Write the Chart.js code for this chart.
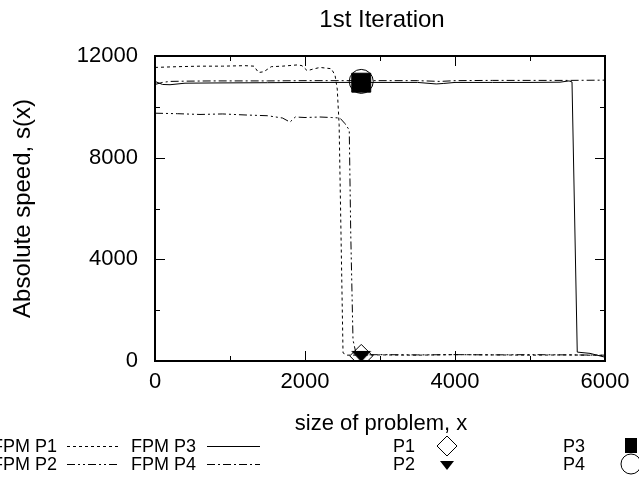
<!DOCTYPE html>
<html>
<head>
<meta charset="utf-8">
<script src="https://cdn.jsdelivr.net/npm/chart.js@4.4.1/dist/chart.umd.min.js"></script>
<style>
  html, body { margin: 0; padding: 0; background: #fff; }
  #wrap { width: 639px; height: 480px; }
</style>
</head>
<body>
<div id="wrap"><canvas id="c" width="639" height="480"></canvas></div>
<script>
// ---- data ----
const chartTitle = "1st Iteration";
const xTitle = "size of problem, x";
const yTitle = "Absolute speed, s(x)";
const xTicks = [0, 2000, 4000, 6000];
const yTicks = [0, 4000, 8000, 12000];

const fpmP1X = [0, 300, 600, 900, 1200, 1320, 1380, 1450, 1550, 1700, 1900, 1960, 2030, 2100, 2200, 2350, 2400, 2430, 2455, 2480, 2507, 2560, 3000, 3500, 4000, 4500, 5000, 5500, 6000];
const fpmP1Y = [11550, 11580, 11600, 11600, 11620, 11600, 11350, 11380, 11580, 11600, 11650, 11620, 11420, 11480, 11550, 11500, 11250, 10700, 9300, 5000, 320, 230, 240, 230, 250, 240, 230, 240, 220];

const fpmP2X = [0, 300, 600, 900, 1200, 1500, 1700, 1800, 1870, 2000, 2200, 2350, 2466, 2530, 2590, 2610, 2640, 2680, 2750, 3000, 3500, 4000, 4500, 5000, 5500, 6000];
const fpmP2Y = [9750, 9730, 9700, 9720, 9680, 9650, 9560, 9400, 9600, 9580, 9600, 9580, 9560, 9350, 9090, 5000, 830, 300, 240, 250, 240, 250, 240, 250, 240, 230];

const fpmP3X = [0, 100, 200, 400, 800, 1500, 2000, 2750, 3500, 3750, 3850, 4000, 4500, 5000, 5400, 5520, 5560, 5630, 5800, 6000];
const fpmP3Y = [11000, 10880, 10870, 10930, 10940, 10950, 10960, 10960, 10960, 10900, 10920, 10960, 10960, 10960, 10970, 11020, 10980, 350, 300, 150];

const fpmP4X = [0, 100, 200, 400, 800, 1500, 2000, 2750, 3500, 3800, 4000, 4500, 5000, 5500, 6000];
const fpmP4Y = [10880, 10960, 11000, 11010, 11020, 11020, 11030, 11030, 11030, 11000, 11030, 11040, 11040, 11040, 11050];

const pointX = 2750;
const p1Y = 200;
const p2Y = 200;
const p3Y = 10950;
const p4Y = 11000;

const legendLines = ["FPM P1", "FPM P2", "FPM P3", "FPM P4"];
const legendPoints = ["P1", "P2", "P3", "P4"];

// ---- styles ----
const FONT = "'Liberation Sans', Arial, Helvetica, sans-serif";
const dashP1 = [3, 3];
const dashP2 = [8, 3, 2, 3, 2, 3];
const dashP4 = [8, 3, 2, 3];

function zip(xs, ys) { return xs.map((x, i) => ({ x: x, y: ys[i] })); }

// down-triangle marker image
const triImg = document.createElement('canvas');
triImg.width = 22; triImg.height = 22;
(function () {
  const t = triImg.getContext('2d');
  t.fillStyle = '#000';
  t.beginPath();
  t.moveTo(1, 6); t.lineTo(21, 6); t.lineTo(11, 17); t.closePath();
  t.fill();
})();

const lineDs = (label, xs, ys, dash) => ({
  label: label, data: zip(xs, ys), borderColor: '#000', borderWidth: 1,
  borderDash: dash, pointRadius: 0, fill: false, tension: 0
});
const ptDs = (label, y, style, radius, bg) => ({
  label: label, data: [{ x: pointX, y: y }], showLine: false,
  pointStyle: style, pointRadius: radius, pointHoverRadius: radius,
  pointBorderColor: '#000', pointBackgroundColor: bg, pointBorderWidth: 1
});

const decor = {
  id: 'decor',
  afterDraw(chart) {
    const ctx = chart.ctx;
    const a = chart.chartArea;
    const xs = chart.scales.x, ys = chart.scales.y;
    ctx.save();
    // ticks (inward, mirrored)
    ctx.strokeStyle = '#000';
    ctx.lineWidth = 1;
    ctx.beginPath();
    for (let v = 1000; v < 6000; v += 1000) {
      const px = Math.round(xs.getPixelForValue(v)) + 0.5;
      const L = (v % 2000 === 0) ? 10 : 5;
      ctx.moveTo(px, a.bottom); ctx.lineTo(px, a.bottom - L);
      ctx.moveTo(px, a.top); ctx.lineTo(px, a.top + L);
    }
    for (let v = 2000; v < 12000; v += 2000) {
      const py = Math.round(ys.getPixelForValue(v)) + 0.5;
      const L = (v % 4000 === 0) ? 10 : 5;
      ctx.moveTo(a.left, py); ctx.lineTo(a.left + L, py);
      ctx.moveTo(a.right, py); ctx.lineTo(a.right - L, py);
    }
    ctx.stroke();
    // frame
    ctx.lineWidth = 2;
    ctx.strokeRect(a.left, a.top, a.right - a.left, a.bottom - a.top);

    // titles
    ctx.fillStyle = '#000';
    ctx.textAlign = 'center';
    ctx.textBaseline = 'alphabetic';
    ctx.font = '24px ' + FONT;
    ctx.fillText(chartTitle, (a.left + a.right) / 2 + 2, 27);
    ctx.font = '22px ' + FONT;
    ctx.fillText(xTitle, (a.left + a.right) / 2 + 1, 430);
    ctx.save();
    ctx.translate(30, (a.top + a.bottom) / 2);
    ctx.rotate(-Math.PI / 2);
    ctx.font = '24px ' + FONT;
    ctx.fillText(yTitle, 0, 0);
    ctx.restore();

    // legend
    ctx.font = '18px ' + FONT;
    ctx.textAlign = 'right';
    ctx.textBaseline = 'middle';
    const rows = [446, 464];
    const lineCols = [[57, 67, 120], [196, 207, 260]];
    const dashes = [[dashP1, dashP2], [[], dashP4]];
    for (let c = 0; c < 2; c++) {
      for (let r = 0; r < 2; r++) {
        const y = rows[r];
        ctx.fillText(legendLines[c * 2 + r], lineCols[c][0], y + 1);
        ctx.beginPath();
        ctx.lineWidth = 1;
        ctx.setLineDash(dashes[c][r]);
        ctx.moveTo(lineCols[c][1], y + 0.5); ctx.lineTo(lineCols[c][2], y + 0.5);
        ctx.stroke();
        ctx.setLineDash([]);
      }
    }
    const ptCols = [[415, 447], [585, 631]];
    for (let c = 0; c < 2; c++) {
      for (let r = 0; r < 2; r++) {
        const y = rows[r];
        const idx = c * 2 + r;
        ctx.fillText(legendPoints[idx], ptCols[c][0], y + 1);
        const mx = ptCols[c][1];
        ctx.lineWidth = 1;
        ctx.beginPath();
        if (idx === 0) {
          ctx.moveTo(mx, y - 10); ctx.lineTo(mx + 10, y); ctx.lineTo(mx, y + 10); ctx.lineTo(mx - 10, y); ctx.closePath();
          ctx.stroke();
        } else if (idx === 1) {
          ctx.moveTo(mx - 7, y - 3); ctx.lineTo(mx + 7, y - 3); ctx.lineTo(mx, y + 6); ctx.closePath();
          ctx.fill();
        } else if (idx === 2) {
          ctx.fillRect(mx - 6, y - 8, 12, 15);
        } else {
          ctx.arc(mx, y, 10, 0, Math.PI * 2);
          ctx.stroke();
        }
      }
    }
    ctx.restore();
  }
};

new Chart(document.getElementById('c'), {
  type: 'line',
  data: {
    datasets: [
      ptDs('P4', p4Y, 'circle', 12, 'rgba(0,0,0,0)'),
      ptDs('P3', p3Y, 'rect', 13.4, '#000'),
      ptDs('P2', p2Y, triImg, 10, '#000'),
      ptDs('P1', p1Y, 'rectRot', 11.5, 'rgba(255,255,255,0)'),
      lineDs('FPM P1', fpmP1X, fpmP1Y, dashP1),
      lineDs('FPM P2', fpmP2X, fpmP2Y, dashP2),
      lineDs('FPM P3', fpmP3X, fpmP3Y, []),
      lineDs('FPM P4', fpmP4X, fpmP4Y, dashP4)
    ]
  },
  options: {
    responsive: false,
    animation: false,
    devicePixelRatio: 1,
    layout: { padding: { left: 0, top: 56, right: 34, bottom: 0 } },
    plugins: { legend: { display: false }, tooltip: { enabled: false }, title: { display: false } },
    scales: {
      x: {
        type: 'linear', min: 0, max: 6000,
        grid: { display: false, drawTicks: false },
        border: { display: false },
        afterBuildTicks: s => { s.ticks = xTicks.map(v => ({ value: v })); },
        afterFit: s => { s.height = 119; },
        ticks: { color: '#000', padding: 8, maxRotation: 0, font: { family: FONT, size: 22 },
                 callback: v => String(v) }
      },
      y: {
        type: 'linear', min: 0, max: 12000,
        grid: { display: false, drawTicks: false },
        border: { display: false },
        afterBuildTicks: s => { s.ticks = yTicks.map(v => ({ value: v })); },
        afterFit: s => { s.width = 155; },
        ticks: { color: '#000', padding: 17, font: { family: FONT, size: 22 },
                 callback: v => String(v) }
      }
    }
  },
  plugins: [decor]
});
</script>
</body>
</html>
